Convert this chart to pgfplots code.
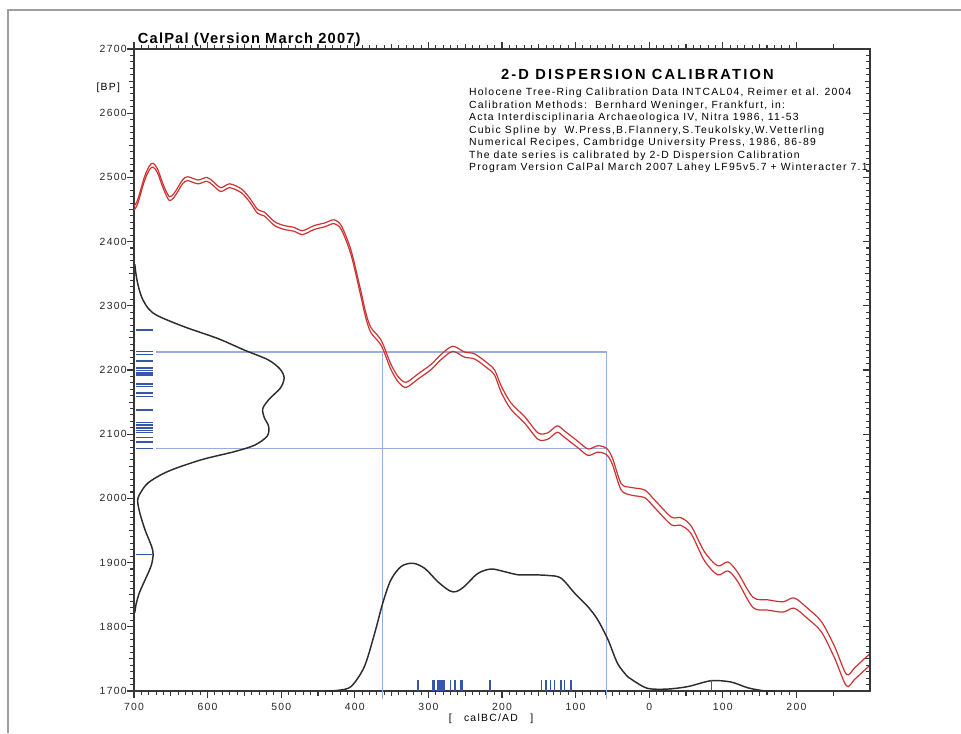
\documentclass[border=0pt]{standalone}
\usepackage{fontspec}
\setmainfont{Liberation Sans}
\newfontfamily\ftext{Liberation Sans}[LetterSpace=12]
\newfontfamily\ftitle{Liberation Sans}[LetterSpace=8]
\newfontfamily\fhead{Liberation Sans}[LetterSpace=15]
\usepackage{pgfplots}
\pgfplotsset{compat=1.18}
\definecolor{calred}{RGB}{205,50,50}
\definecolor{rectblue}{RGB}{150,175,222}
\definecolor{tickblue}{RGB}{55,85,175}
\definecolor{curveblack}{RGB}{45,45,45}
\definecolor{axisgray}{RGB}{55,55,55}
\pgfplotstableread{
x lo hi
-700 2449 2455
-695 2459 2465
-686 2494 2500
-679 2512 2518
-674 2516 2522
-668 2507 2513
-660 2482 2488
-652 2464 2470
-645 2470 2476
-634 2490 2496
-627 2495 2501
-613 2490 2496
-601 2494 2500
-593 2488 2494
-582 2478 2484
-570 2484 2490
-554 2476 2482
-543 2462 2468
-532 2444 2450
-523 2440 2446
-509 2425 2431
-496 2419 2425
-482 2416 2422
-471 2411 2417
-455 2419 2425
-441 2423 2429
-428 2428 2434
-418 2418 2424
-405 2379 2386
-392 2316 2324
-385 2281 2289
-378 2258 2266
-364 2238 2246
-351 2201 2209
-340 2180 2188
-330 2173 2181
-314 2186 2194
-296 2201 2209
-283 2216 2224
-267 2229 2237
-251 2220 2228
-237 2217 2225
-219 2202 2210
-210 2192 2200
-201 2165 2175
-188 2139 2149
-169 2117 2127
-151 2092 2102
-138 2092 2102
-125 2103 2113
-115 2095 2105
-97 2079 2089
-83 2067 2077
-70 2072 2082
-58 2068 2078
-50 2053 2063
-38 2013 2023
-24 2005 2017
-6 2001 2013
7 1986 1998
30 1959 1971
43 1958 1970
57 1945 1957
75 1903 1917
93 1881 1895
107 1887 1901
120 1871 1885
141 1830 1846
161 1826 1842
182 1823 1839
197 1829 1845
215 1813 1829
234 1792 1808
252 1751 1769
268 1708 1726
279 1718 1736
293 1733 1751
300 1740 1758
}\calcurve
\pgfplotstableread{
x y
-440 1700
-423 1701
-405 1707
-387 1738
-373 1790
-362 1837
-351 1873
-337 1894
-321 1899
-305 1891
-287 1870
-271 1856
-262 1855
-251 1863
-233 1883
-215 1890
-197 1886
-178 1881
-160 1881
-138 1880
-120 1876
-101 1852
-83 1831
-70 1811
-56 1780
-43 1743
-29 1722
-20 1715
-2 1704
25 1703
53 1707
84 1716
111 1714
134 1705
157 1700
170 1700
}\caldens
\pgfplotstableread{
x y
-699 2365
-697 2347
-694 2330
-689 2312
-680 2295
-667 2284
-631 2267
-586 2249
-550 2231
-518 2216
-502 2202
-496 2188
-501 2172
-516 2155
-525 2140
-523 2126
-517 2112
-519 2097
-536 2083
-563 2073
-609 2060
-654 2042
-681 2024
-693 2005
-695 1995
-692 1977
-685 1951
-676 1925
-674 1912
-677 1894
-687 1868
-693 1852
-697 1836
-699 1822
}\bpdens
\begin{document}
\begin{tikzpicture}
\useasboundingbox (-100.5pt,-31.5pt) rectangle (620.25pt,518.25pt);
\draw[gray!75, line width=0.9pt] (-94.5pt,-31.5pt) -- (-94.5pt,510.75pt) -- (620.25pt,510.75pt);
\begin{axis}[
  at={(0,0)}, anchor=south west,
  width=552pt, height=481.5pt, scale only axis,
  xmin=-700, xmax=300, ymin=1700, ymax=2700,
  clip=false,
  axis line style={line width=1pt, draw=axisgray},
  every tick/.style={line width=0.8pt, draw=axisgray},
  tick align=outside,
  xtick={-700,-600,...,200},
  xticklabels={700,600,500,400,300,200,100,0,100,200},
  minor x tick num=9,
  ytick={1700,1800,...,2700},
  minor y tick num=9,
  xtick pos=both, ytick pos=left, xticklabel pos=lower,
  major tick length=5pt, minor tick length=2.8pt,
  extra x ticks={-650,-550,...,250}, extra x tick labels={},
  extra x tick style={major tick length=4pt},
  extra y ticks={1750,1850,...,2650}, extra y tick labels={},
  extra y tick style={major tick length=4pt},
  ticklabel style={font=\ftext\fontsize{7.8}{9}\selectfont, text=black!85},
  yticklabel style={xshift=3pt},
  xticklabel style={yshift=-0.5pt},
  /pgf/number format/assume math mode=true,
  /pgf/number format/1000 sep={},
]
% rectangle of the calibrated range
\addplot[rectblue, line width=0.8pt] coordinates {(-670,2228) (-58,2228)};
\addplot[rectblue, line width=0.8pt] coordinates {(-670,2078) (-58,2078)};
\addplot[rectblue, line width=0.8pt] coordinates {(-363,2228) (-363,1688)};
\addplot[rectblue, line width=0.8pt] coordinates {(-58,2228) (-58,1688)};
% dispersion curves
\addplot[curveblack, line width=1.1pt, smooth] table[x=x,y=y] {\caldens};
\addplot[curveblack, line width=1.1pt, smooth] table[x=x,y=y] {\bpdens};
% calibration curve (two lines)
\addplot[calred, line width=0.9pt, smooth] table[x=x,y=hi] {\calcurve};
\addplot[calred, line width=0.9pt, smooth] table[x=x,y=lo] {\calcurve};
% sample ticks
\addplot[only marks, mark=|, mark size=4.1pt, mark options={line width=1.1pt, draw=tickblue}] coordinates {
(-314,1708.5) (-294,1708.5) (-292,1708.5) (-287,1708.5) (-285,1708.5) (-283,1708.5) (-280,1708.5) (-278,1708.5)
(-270,1708.5) (-264,1708.5) (-256,1708.5) (-254,1708.5) (-216,1708.5)
(-146,1708.5) (-140,1708.5) (-134,1708.5) (-129,1708.5) (-120,1708.5) (-115,1708.5) (-106,1708.5) (85,1708.5)};
\addplot[only marks, mark=-, mark size=6.3pt, mark options={line width=1.1pt, draw=tickblue}] coordinates {
(-686,2262) (-686,2229) (-686,2224) (-686,2214) (-686,2203) (-686,2199) (-686,2195) (-686,2192)
(-686,2178) (-686,2174) (-686,2164) (-686,2159) (-686,2138) (-686,2118) (-686,2114) (-686,2110)
(-686,2106) (-686,2103) (-686,2095) (-686,2088) (-686,2078) (-686,1913)};
% texts
\node[anchor=base west, inner sep=0pt, font=\ftitle\bfseries\fontsize{11}{13}\selectfont] at (axis cs:-695,2709) {CalPal (Version March 2007)};
\node[anchor=base, inner sep=0pt, font=\fhead\bfseries\fontsize{11}{13}\selectfont] at (axis cs:-16,2653) {2-D DISPERSION CALIBRATION};
\begin{scope}[every node/.style={anchor=base west, inner sep=0pt, font=\ftext\fontsize{7.8}{9}\selectfont}]
\node at (axis cs:-245,2627) {Holocene Tree-Ring Calibration Data INTCAL04, Reimer et al. 2004};
\node at (axis cs:-245,2607.5) {Calibration Methods:\ \ Bernhard Weninger, Frankfurt, in:};
\node at (axis cs:-245,2588) {Acta Interdisciplinaria Archaeologica IV, Nitra 1986, 11-53};
\node at (axis cs:-245,2568.5) {Cubic Spline by\ \ W.Press,B.Flannery,S.Teukolsky,W.Vetterling};
\node at (axis cs:-245,2549) {Numerical Recipes, Cambridge University Press, 1986, 86-89};
\node at (axis cs:-245,2529.5) {The date series is calibrated by 2-D Dispersion Calibration};
\node at (axis cs:-245,2510) {Program Version CalPal March 2007 Lahey LF95v5.7 + Winteracter 7.1};
\end{scope}
\node[anchor=base, inner sep=0pt, font=\ftext\fontsize{7.8}{9}\selectfont] at (axis cs:-735,2636) {[BP]};
\node[anchor=base, inner sep=0pt, font=\ftext\fontsize{7.8}{9}\selectfont] at (axis cs:-215,1652) {[\ \ \ calBC/AD\ \ \ ]};
\end{axis}
\begin{axis}[
  at={(0,0)}, anchor=south west,
  width=552pt, height=481.5pt, scale only axis,
  xmin=-700, xmax=300, ymin=1700, ymax=2700,
  axis x line=none, axis y line*=right,
  axis line style={line width=1pt, draw=axisgray, -},
  every tick/.style={line width=0.8pt, draw=axisgray},
  tick align=inside,
  ytick={1700,1800,...,2700}, yticklabels={},
  minor y tick num=9,
  major tick length=5pt, minor tick length=2.8pt,
  extra y ticks={1750,1850,...,2650}, extra y tick labels={},
  extra y tick style={major tick length=4pt},
]
\addplot[draw=none] coordinates {(0,2000)};
\end{axis}
\end{tikzpicture}
\end{document}
